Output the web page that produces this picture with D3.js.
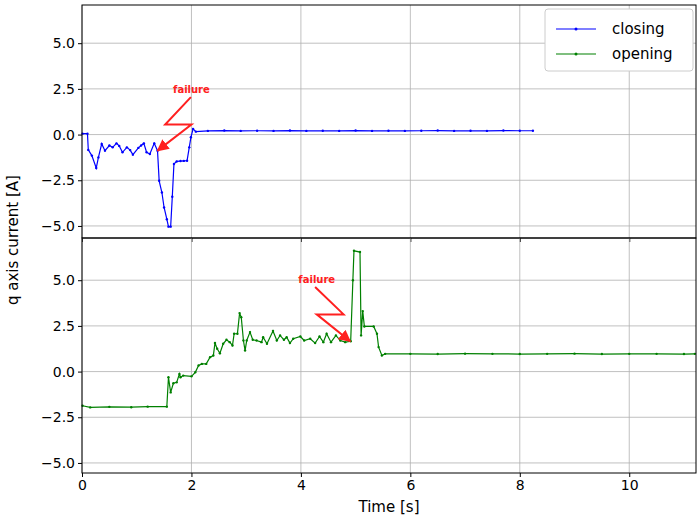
<!DOCTYPE html><html><head><meta charset="utf-8"><script src="https://cdn.jsdelivr.net/npm/d3@7"></script>
<style>body{margin:0;background:#fff}text{font-family:"DejaVu Sans",sans-serif}</style></head><body><svg id="c" width="700" height="519"></svg>
<script>
const xTicks=[0,2,4,6,8,10];
const yTicks=[-5,-2.5,0,2.5,5];
const closingT=[0.01,0.1,0.115,0.18,0.26,0.3,0.36,0.42,0.5,0.56,0.63,0.68,0.74,0.82,0.88,0.93,1.03,1.08,1.13,1.18,1.24,1.32,1.38,1.41,1.46,1.5,1.55,1.58,1.62,1.65,1.68,1.73,1.8,1.86,1.92,1.96,1.99,2.03,2.08,2.3,2.6,2.9,3.2,3.5,3.8,4.1,4.4,4.7,5.0,5.3,5.6,5.9,6.2,6.5,6.8,7.1,7.4,7.7,8.0,8.24];
const closingV=[0.05,0.05,-0.84,-1.15,-1.83,-1.25,-0.51,-0.88,-0.6,-0.7,-0.48,-0.62,-0.97,-0.7,-0.85,-1.1,-0.73,-0.6,-0.48,-0.97,-1.06,-0.48,-0.88,-2.53,-3.17,-3.99,-4.63,-5.04,-5.04,-3.4,-1.61,-1.47,-1.45,-1.44,-1.43,-0.7,-0.15,0.31,0.16,0.2,0.22,0.2,0.21,0.2,0.22,0.2,0.21,0.2,0.22,0.2,0.21,0.2,0.21,0.22,0.2,0.21,0.2,0.22,0.21,0.21];
const openingT=[0.01,0.15,0.5,0.9,1.2,1.55,1.58,1.62,1.67,1.73,1.78,1.8,1.85,2.0,2.07,2.13,2.19,2.27,2.34,2.4,2.43,2.47,2.52,2.58,2.64,2.7,2.75,2.78,2.84,2.88,2.91,2.95,2.98,3.01,3.07,3.12,3.19,3.28,3.31,3.38,3.49,3.56,3.62,3.69,3.74,3.8,3.86,3.99,4.06,4.17,4.26,4.34,4.41,4.47,4.55,4.64,4.72,4.81,4.91,4.95,4.97,5.08,5.1,5.13,5.16,5.33,5.39,5.42,5.48,5.54,6.0,6.5,7.0,7.5,8.0,8.5,9.0,9.5,10.0,10.5,11.0,11.2];
const openingV=[-1.87,-1.96,-1.93,-1.95,-1.92,-1.92,-0.31,-1.14,-0.64,-0.59,-0.13,-0.31,-0.22,-0.26,-0.04,0.33,0.42,0.42,0.79,0.88,1.56,1.25,1.0,1.52,1.74,1.61,1.43,2.07,2.07,3.2,2.98,1.7,1.15,1.7,2.16,1.74,1.7,1.61,1.88,1.52,2.22,1.7,1.98,1.74,1.88,1.56,1.8,1.92,1.7,1.8,1.56,1.92,1.61,2.07,1.61,1.98,1.7,1.61,1.66,5.0,6.61,6.54,1.98,3.31,2.47,2.47,2.07,1.34,0.88,0.97,0.97,0.96,0.98,0.97,0.96,0.97,0.98,0.96,0.97,0.97,0.96,0.97];
const boltTop={t:[1.99,1.52,2.0,1.38],v:[2.05,0.55,0.55,-0.88],label:[2.0,2.47]};
const boltBot={t:[4.26,4.78,4.29,4.9],v:[4.63,3.13,3.13,1.66],label:[4.29,5.05]};

const svg=d3.select("#c");
const L=82,R=696;
const x=d3.scaleLinear().domain([0,11.22]).range([L,R]);
const panels=[
 {y:d3.scaleLinear().domain([-5.66,7.09]).range([238,5]),t:closingT,v:closingV,c:"#0000ff",bolt:boltTop,top:5,bot:238},
 {y:d3.scaleLinear().domain([-5.55,7.31]).range([473,238]),t:openingT,v:openingV,c:"#008000",bolt:boltBot,top:238,bot:473}
];
svg.append("defs").append("marker").attr("id","ah").attr("viewBox","0 0 10 10").attr("refX",9).attr("refY",5)
 .attr("markerWidth",6).attr("markerHeight",6).attr("orient","auto")
 .append("path").attr("d","M0,0L10,5L0,10z").attr("fill","#ff2020");
panels.forEach((p,i)=>{
 const g=svg.append("g");
 g.selectAll(".gx").data(xTicks).join("line").attr("x1",d=>x(d)).attr("x2",d=>x(d)).attr("y1",p.top).attr("y2",p.bot).attr("stroke","#b0b0b0").attr("stroke-width",0.8);
 g.selectAll(".gy").data(yTicks).join("line").attr("x1",L).attr("x2",R).attr("y1",d=>p.y(d)).attr("y2",d=>p.y(d)).attr("stroke","#b0b0b0").attr("stroke-width",0.8);
 const data=p.t.map((t,k)=>[t,p.v[k]]);
 g.append("path").datum(data).attr("d",d3.line().x(d=>x(d[0])).y(d=>p.y(d[1]))).attr("fill","none").attr("stroke",p.c).attr("stroke-width",1.2);
 g.selectAll("circle").data(data).join("circle").attr("cx",d=>x(d[0])).attr("cy",d=>p.y(d[1])).attr("r",1.2).attr("fill",p.c);
 const b=p.bolt;
 g.append("polyline").attr("points",b.t.map((t,k)=>x(t)+","+p.y(b.v[k])).join(" ")).attr("fill","none").attr("stroke","#ff2020").attr("stroke-width",2).attr("marker-end","url(#ah)");
 g.append("text").attr("x",x(b.label[0])).attr("y",p.y(b.label[1])+4).attr("text-anchor","middle").attr("fill","#ff2020").attr("font-size",10).attr("font-weight","bold").text("failure");
 const ya=d3.axisLeft(p.y).tickValues(yTicks).tickFormat(d3.format(".1f")).tickSize(4);
 const ag=g.append("g").attr("transform",`translate(${L},0)`).call(ya);
 ag.select(".domain").remove();
 ag.selectAll("text").attr("font-size",14).attr("fill","#000").attr("font-family","DejaVu Sans");
 const xa=d3.axisBottom(x).tickValues(xTicks).tickSize(4).tickFormat(i===1?d3.format("d"):()=>"");
 const xg=g.append("g").attr("transform",`translate(0,${p.bot})`).call(xa);
 xg.select(".domain").remove();
 xg.selectAll("text").attr("font-size",14).attr("fill","#000").attr("font-family","DejaVu Sans");
 g.append("rect").attr("x",L).attr("y",p.top).attr("width",R-L).attr("height",p.bot-p.top).attr("fill","none").attr("stroke","#000").attr("stroke-width",1);
});
svg.append("text").attr("x",(L+R)/2).attr("y",512).attr("text-anchor","middle").attr("font-size",15).text("Time [s]");
svg.append("text").attr("transform","translate(18,240) rotate(-90)").attr("text-anchor","middle").attr("font-size",15).text("q axis current [A]");
const lg=svg.append("g");
lg.append("rect").attr("x",545).attr("y",9).attr("width",148).attr("height",62).attr("rx",3).attr("fill","#fff").attr("stroke","#ccc");
[["closing","#0000ff"],["opening","#008000"]].forEach((e,k)=>{
 const yy=29+k*25;
 lg.append("line").attr("x1",556).attr("x2",596).attr("y1",yy).attr("y2",yy).attr("stroke",e[1]).attr("stroke-width",1.2);
 lg.append("circle").attr("cx",576).attr("cy",yy).attr("r",1.5).attr("fill",e[1]);
 lg.append("text").attr("x",612).attr("y",yy+5).attr("font-size",15).text(e[0]);
});
</script></body></html>
